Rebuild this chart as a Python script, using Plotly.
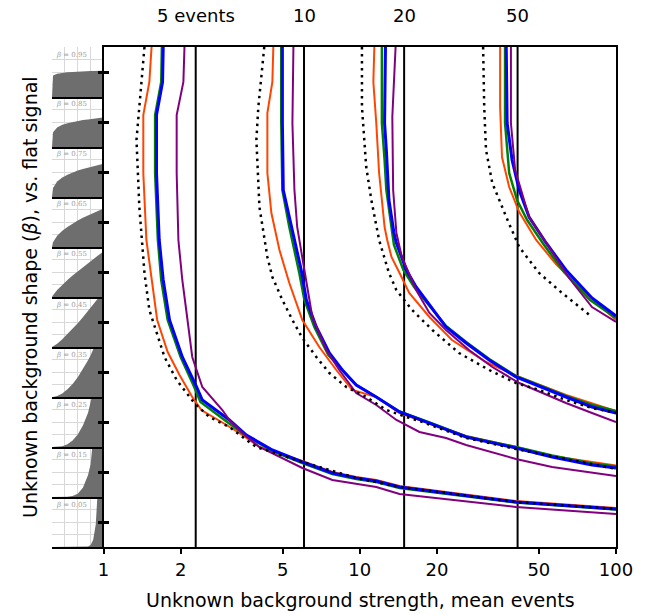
import math
import plotly.graph_objects as go

# ---------------- data ----------------
# background-shape panels (beta values) and the sketched shapes, height units 0..2
PANEL_BETAS = [0.05, 0.15, 0.25, 0.35, 0.45, 0.55, 0.65, 0.75, 0.85, 0.95]
X_SHAPE = [0, 0.02, 0.1, 0.2, 0.3, 0.4, 0.5, 0.6, 0.7, 0.75, 0.8, 0.85, 0.9, 0.95, 1.0]
SHAPE_005 = [0, 0, 0, 0, 0, 0, 0, 0, 0.02, 0.08, 0.29, 0.91, 2.70, 7.55, 20.0]
SHAPE_015 = [0, 0, 0, 0, 0.01, 0.04, 0.13, 0.37, 0.88, 1.31, 1.88, 2.66, 3.67, 4.99, 6.67]
SHAPE_025 = [0, 0, 0, 0.03, 0.11, 0.26, 0.50, 0.86, 1.37, 1.69, 2.05, 2.46, 2.92, 3.43, 4.00]
SHAPE_035 = [0, 0, 0.04, 0.14, 0.31, 0.52, 0.79, 1.11, 1.47, 1.67, 1.89, 2.11, 2.35, 2.60, 2.86]
SHAPE_045 = [0, 0.02, 0.13, 0.31, 0.51, 0.73, 0.95, 1.19, 1.44, 1.56, 1.69, 1.82, 1.95, 2.09, 2.22]
SHAPE_055 = [0, 0.07, 0.28, 0.49, 0.68, 0.86, 1.03, 1.20, 1.36, 1.44, 1.52, 1.59, 1.67, 1.74, 1.82]
SHAPE_065 = [0, 0.19, 0.45, 0.65, 0.80, 0.94, 1.06, 1.17, 1.27, 1.32, 1.36, 1.41, 1.45, 1.50, 1.54]
SHAPE_075 = [0, 0.36, 0.62, 0.78, 0.89, 0.98, 1.06, 1.12, 1.18, 1.21, 1.24, 1.26, 1.29, 1.31, 1.33]
SHAPE_085 = [0, 0.59, 0.78, 0.89, 0.95, 1.00, 1.04, 1.08, 1.10, 1.12, 1.13, 1.14, 1.16, 1.17, 1.18]
SHAPE_095 = [0, 0.86, 0.93, 0.97, 0.99, 1.00, 1.02, 1.03, 1.03, 1.04, 1.04, 1.04, 1.05, 1.05, 1.05]
SHAPES = [SHAPE_005, SHAPE_015, SHAPE_025, SHAPE_035, SHAPE_045,
          SHAPE_055, SHAPE_065, SHAPE_075, SHAPE_085, SHAPE_095]

# vertical reference lines and their top labels
VLINE_X = [2.29, 6.06, 14.9, 41.3]
VLINE_LABELS = ["5 events", "10", "20", "50"]

X_TICKS = [1, 2, 5, 10, 20, 50, 100]
Y_TICKS = [0.05, 0.15, 0.25, 0.35, 0.45, 0.55, 0.65, 0.75, 0.85, 0.95]

# ---- 5 signal events ----
S5_DOT_X = [1.445, 1.38, 1.345, 1.38, 1.445, 1.51, 1.61, 1.73, 1.93, 2.26, 2.59, 3.10, 3.61, 3.95, 5.97, 9.69, 14.3, 40.7, 100]
S5_DOT_B = [1.0, 0.88, 0.814, 0.68, 0.548, 0.474, 0.428, 0.38, 0.334, 0.288, 0.26, 0.24, 0.214, 0.20, 0.17, 0.138, 0.12, 0.09, 0.076]
S5_ORANGE_X = [1.54, 1.51, 1.43, 1.43, 1.47, 1.54, 1.62, 1.78, 1.98, 2.22, 2.41, 3.02, 3.39, 4.06, 5.97, 7.82, 9.69, 11.6, 14.3, 40.7, 100]
S5_ORANGE_B = [1.0, 0.93, 0.864, 0.748, 0.614, 0.534, 0.454, 0.39, 0.344, 0.30, 0.274, 0.244, 0.228, 0.20, 0.172, 0.15, 0.14, 0.134, 0.122, 0.092, 0.078]
S5_GREEN_X = [1.69, 1.68, 1.59, 1.59, 1.63, 1.68, 1.78, 2.00, 2.26, 2.39, 3.04, 3.61, 4.56, 5.97, 7.82, 9.69, 11.6, 14.3, 40.7, 100]
S5_GREEN_B = [1.0, 0.93, 0.864, 0.748, 0.614, 0.534, 0.454, 0.38, 0.32, 0.29, 0.25, 0.222, 0.192, 0.168, 0.146, 0.136, 0.13, 0.118, 0.089, 0.075]
S5_BLUE_X = [1.71, 1.70, 1.61, 1.61, 1.65, 1.71, 1.81, 2.03, 2.31, 2.43, 3.10, 3.61, 4.56, 5.97, 7.82, 9.69, 11.6, 14.3, 40.7, 100]
S5_BLUE_B = [1.0, 0.93, 0.864, 0.748, 0.614, 0.534, 0.454, 0.38, 0.32, 0.294, 0.254, 0.224, 0.194, 0.17, 0.148, 0.138, 0.132, 0.12, 0.09, 0.076]
S5_PURPLE_X = [2.07, 2.05, 1.93, 1.93, 1.96, 2.03, 2.11, 2.22, 2.43, 2.91, 3.10, 3.48, 4.06, 4.44, 5.97, 7.82, 11.6, 14.3, 40.7, 100]
S5_PURPLE_B = [1.0, 0.93, 0.864, 0.748, 0.614, 0.534, 0.468, 0.38, 0.32, 0.274, 0.254, 0.228, 0.20, 0.19, 0.158, 0.134, 0.12, 0.106, 0.08, 0.066]

# ---- 10 signal events ----
S10_DOT_X = [4.24, 4.02, 3.95, 4.06, 4.36, 4.56, 4.99, 5.46, 5.97, 6.77, 7.61, 8.86, 10.6, 12.7, 15.2, 17.1, 26.0, 40.7, 100]
S10_DOT_B = [1.0, 0.88, 0.814, 0.68, 0.58, 0.54, 0.494, 0.454, 0.418, 0.38, 0.348, 0.32, 0.30, 0.274, 0.26, 0.252, 0.218, 0.196, 0.156]
S10_ORANGE_X = [4.60, 4.56, 4.36, 4.36, 4.52, 4.86, 5.31, 5.97, 6.95, 8.10, 9.35, 11.6, 14.3, 17.1, 26.0, 40.7, 56.3, 80.6, 100]
S10_ORANGE_B = [1.0, 0.93, 0.868, 0.748, 0.668, 0.594, 0.528, 0.454, 0.40, 0.354, 0.314, 0.30, 0.268, 0.254, 0.222, 0.20, 0.182, 0.17, 0.163]
S10_GREEN_X = [4.94, 4.94, 4.99, 5.31, 5.81, 6.08, 6.65, 7.54, 8.55, 9.69, 11.6, 14.3, 18.7, 26.0, 40.7, 56.3, 80.6, 100]
S10_GREEN_B = [1.0, 0.848, 0.714, 0.64, 0.548, 0.494, 0.44, 0.384, 0.354, 0.324, 0.30, 0.271, 0.249, 0.221, 0.20, 0.183, 0.167, 0.161]
S10_BLUE_X = [4.99, 4.99, 5.03, 5.41, 5.91, 6.19, 6.77, 7.61, 8.55, 9.69, 11.6, 14.3, 18.7, 26.0, 40.7, 56.3, 80.6, 100]
S10_BLUE_B = [1.0, 0.848, 0.714, 0.64, 0.554, 0.494, 0.44, 0.388, 0.354, 0.324, 0.30, 0.27, 0.248, 0.22, 0.198, 0.18, 0.164, 0.158]
S10_PURPLE_X = [5.51, 5.46, 5.56, 5.70, 6.08, 6.36, 6.53, 7.40, 8.32, 9.69, 11.6, 13.9, 17.1, 21.7, 26.0, 40.7, 56.3, 100]
S10_PURPLE_B = [1.0, 0.848, 0.714, 0.64, 0.554, 0.494, 0.46, 0.394, 0.354, 0.308, 0.284, 0.254, 0.23, 0.218, 0.204, 0.176, 0.16, 0.142]

# ---- 20 signal events ----
S20_DOT_X = [10.2, 10.2, 10.6, 11.1, 11.9, 13.0, 13.9, 16.0, 19.2, 24.4, 32.0, 40.7, 50.1, 63.8, 80.6, 100]
S20_DOT_B = [1.0, 0.88, 0.76, 0.694, 0.614, 0.548, 0.514, 0.474, 0.434, 0.388, 0.354, 0.328, 0.314, 0.294, 0.278, 0.268]
S20_ORANGE_X = [11.4, 11.3, 11.6, 11.9, 12.2, 12.5, 12.8, 13.3, 14.3, 15.6, 18.7, 22.9, 31.1, 41.9, 63.8, 100]
S20_ORANGE_B = [1.0, 0.93, 0.848, 0.748, 0.694, 0.64, 0.614, 0.58, 0.548, 0.508, 0.46, 0.414, 0.37, 0.34, 0.304, 0.272]
S20_GREEN_X = [12.2, 12.2, 12.5, 12.7, 13.4, 13.6, 14.8, 16.3, 21.7, 26.0, 32.0, 40.7, 63.8, 80.6, 100]
S20_GREEN_B = [1.0, 0.848, 0.774, 0.714, 0.628, 0.604, 0.554, 0.52, 0.442, 0.41, 0.376, 0.342, 0.302, 0.284, 0.272]
S20_BLUE_X = [12.6, 12.5, 12.7, 12.9, 13.0, 13.6, 13.9, 15.2, 16.6, 21.7, 26.0, 32.0, 40.7, 63.8, 80.6, 100]
S20_BLUE_B = [1.0, 0.848, 0.794, 0.714, 0.694, 0.628, 0.608, 0.554, 0.52, 0.44, 0.408, 0.374, 0.34, 0.30, 0.28, 0.268]
S20_PURPLE_X = [13.8, 13.4, 13.5, 13.9, 14.6, 16.6, 18.7, 21.7, 26.7, 32.9, 41.9, 63.8, 80.6, 100]
S20_PURPLE_B = [1.0, 0.86, 0.714, 0.628, 0.58, 0.514, 0.468, 0.434, 0.394, 0.36, 0.328, 0.288, 0.268, 0.25]

# ---- 50 signal events ----
S50_DOT_X = [30.3, 30.6, 31.1, 32.9, 37.3, 41.9, 50.1, 61.6, 80.6]
S50_DOT_B = [1.0, 0.88, 0.794, 0.728, 0.66, 0.60, 0.548, 0.508, 0.46]
S50_ORANGE_X = [35.3, 35.3, 35.9, 38.3, 41.9, 48.8, 58.3, 71.7, 100]
S50_ORANGE_B = [1.0, 0.88, 0.78, 0.72, 0.67, 0.614, 0.566, 0.52, 0.454]
S50_GREEN_X = [36.9, 36.9, 38.3, 41.1, 45.0, 52.4, 62.7, 79.2, 100]
S50_GREEN_B = [1.0, 0.848, 0.748, 0.694, 0.654, 0.604, 0.55, 0.494, 0.458]
S50_BLUE_X = [37.3, 37.6, 39.3, 41.9, 45.8, 53.4, 63.8, 80.6, 100]
S50_BLUE_B = [1.0, 0.848, 0.774, 0.714, 0.66, 0.608, 0.554, 0.498, 0.462]
S50_PURPLE_X = [38.9, 38.9, 40.4, 42.6, 45.8, 53.4, 65.6, 80.6, 100]
S50_PURPLE_B = [1.0, 0.848, 0.754, 0.714, 0.66, 0.608, 0.538, 0.48, 0.45]

ORANGE_CURVES = [(S5_ORANGE_X, S5_ORANGE_B), (S10_ORANGE_X, S10_ORANGE_B), (S20_ORANGE_X, S20_ORANGE_B), (S50_ORANGE_X, S50_ORANGE_B)]
GREEN_CURVES = [(S5_GREEN_X, S5_GREEN_B), (S10_GREEN_X, S10_GREEN_B), (S20_GREEN_X, S20_GREEN_B), (S50_GREEN_X, S50_GREEN_B)]
BLUE_CURVES = [(S5_BLUE_X, S5_BLUE_B), (S10_BLUE_X, S10_BLUE_B), (S20_BLUE_X, S20_BLUE_B), (S50_BLUE_X, S50_BLUE_B)]
PURPLE_CURVES = [(S5_PURPLE_X, S5_PURPLE_B), (S10_PURPLE_X, S10_PURPLE_B), (S20_PURPLE_X, S20_PURPLE_B), (S50_PURPLE_X, S50_PURPLE_B)]
DOT_CURVES = [(S5_DOT_X, S5_DOT_B), (S10_DOT_X, S10_DOT_B), (S20_DOT_X, S20_DOT_B), (S50_DOT_X, S50_DOT_B)]

# ---------------- figure ----------------
W, H = 647, 614
ML, MR, MT, MB = 52, 31, 47, 67
PW = W - ML - MR
PH = H - MT - MB
PANEL_W = 51.5 / PW          # fraction of plot width used by the shape panels
FONT = "DejaVu Sans"
MAIN_X, MAIN_Y = "x11", "y11"

fig = go.Figure()

# shape panels
for i, (beta, shp) in enumerate(zip(PANEL_BETAS, SHAPES)):
    sfx = "" if i == 0 else str(i + 1)
    fig.add_trace(go.Scatter(x=X_SHAPE, y=shp, mode="lines", fill="tozeroy",
                             fillcolor="#6e6e6e", line=dict(width=0, color="#6e6e6e"),
                             xaxis="x" + sfx, yaxis="y" + sfx, showlegend=False,
                             hoverinfo="skip"))

def add_curves(curves, color, width, dash="solid"):
    for xs, bs in curves:
        fig.add_trace(go.Scatter(x=xs, y=bs, mode="lines",
                                 line=dict(color=color, width=width, dash=dash),
                                 xaxis=MAIN_X, yaxis=MAIN_Y, showlegend=False))

# vertical reference lines
for v in VLINE_X:
    fig.add_trace(go.Scatter(x=[v, v], y=[0, 1], mode="lines",
                             line=dict(color="black", width=2),
                             xaxis=MAIN_X, yaxis=MAIN_Y, showlegend=False))

add_curves(ORANGE_CURVES, "#FF4500", 2)
add_curves(GREEN_CURVES, "#008000", 2.5)
add_curves(BLUE_CURVES, "#0000FF", 3)
add_curves(PURPLE_CURVES, "#800080", 2)
add_curves(DOT_CURVES, "black", 2.5, dash="2.5px,4.5px")

# dummy trace for the inside-tick overlay axis
fig.add_trace(go.Scatter(x=[], y=[], xaxis=MAIN_X, yaxis="y12", showlegend=False))

layout = dict(
    width=W, height=H,
    margin=dict(l=ML, r=MR, t=MT, b=MB, pad=0, autoexpand=False),
    paper_bgcolor="white", plot_bgcolor="white",
    font=dict(family=FONT, size=17, color="black"),
    showlegend=False,
)

for i in range(len(PANEL_BETAS)):
    sfx = "" if i == 0 else str(i + 1)
    layout["xaxis" + sfx] = dict(domain=[0, PANEL_W], range=[0, 1], anchor="y" + sfx,
                                 showgrid=True, gridcolor="#d8d8d8", gridwidth=1, dtick=0.25,
                                 tick0=0, ticks="", showticklabels=False, zeroline=False,
                                 showline=True, linecolor="black", linewidth=1.8,
                                 fixedrange=True, automargin=False)
    layout["yaxis" + sfx] = dict(domain=[i * 0.1, (i + 1) * 0.1], range=[0, 2], anchor="x" + sfx,
                                 showgrid=True, gridcolor="#d8d8d8", gridwidth=1, dtick=0.5,
                                 tick0=0, ticks="", showticklabels=False, zeroline=False,
                                 showline=False, fixedrange=True, automargin=False)

layout["xaxis11"] = dict(domain=[PANEL_W, 1], type="log", range=[0, 2], anchor=MAIN_Y,
                         tickvals=X_TICKS, ticktext=[str(t) for t in X_TICKS],
                         ticks="outside", ticklen=5, tickwidth=1.5, tickcolor="black",
                         tickfont=dict(size=18, family=FONT),
                         showline=True, mirror=True, linecolor="black", linewidth=1.8,
                         showgrid=False, zeroline=False, automargin=False)
layout["yaxis11"] = dict(domain=[0, 1], range=[0, 1], anchor=MAIN_X,
                         tickvals=Y_TICKS, ticks="outside", ticklen=4, tickwidth=3,
                         tickcolor="black", showticklabels=False,
                         showline=True, mirror=True, linecolor="black", linewidth=1.8,
                         showgrid=False, zeroline=False, automargin=False)
layout["yaxis12"] = dict(overlaying=MAIN_Y, anchor=MAIN_X, side="left", range=[0, 1],
                         tickvals=Y_TICKS, ticks="inside", ticklen=5, tickwidth=3,
                         tickcolor="black", showticklabels=False, showline=False,
                         showgrid=False, zeroline=False, automargin=False)

annotations = []
for v, lab in zip(VLINE_X, VLINE_LABELS):
    annotations.append(dict(x=math.log10(v), xref=MAIN_X, y=1.062, yref="paper",
                            text=lab, showarrow=False, xanchor="center", yanchor="middle",
                            font=dict(size=18, family=FONT)))
for i, beta in enumerate(PANEL_BETAS):
    sfx = "" if i == 0 else str(i + 1)
    annotations.append(dict(x=0.03, xref="x" + sfx + " domain", y=0.97, yref="y" + sfx + " domain",
                            text="<i>β</i> = %.2f" % beta, showarrow=False,
                            xanchor="left", yanchor="top",
                            font=dict(size=7, family="DejaVu Serif", color="#a0a0a0")))
# axis titles
annotations.append(dict(x=(360 - ML) / PW, xref="paper", y=-(600 - (MT + PH)) / PH, yref="paper",
                        text="Unknown background strength, mean events",
                        showarrow=False, xanchor="center", yanchor="middle",
                        font=dict(size=19, family=FONT)))
annotations.append(dict(x=(30 - ML) / PW, xref="paper", y=0.5, yref="paper",
                        text="Unknown background shape (<i>β</i>), vs. flat signal",
                        textangle=-90, showarrow=False, xanchor="center", yanchor="middle",
                        font=dict(size=19, family=FONT)))
layout["annotations"] = annotations

fig.update_layout(**layout)
fig.write_html("out.html")
